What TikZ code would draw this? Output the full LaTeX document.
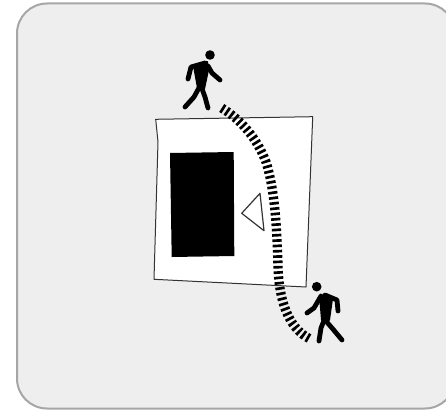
\documentclass[tikz,border=0pt]{standalone}
\usepackage{xcolor}
\definecolor{panelfill}{HTML}{EEEEEE}
\definecolor{paneledge}{HTML}{A6A6A6}
\definecolor{sheetedge}{HTML}{333333}

\begin{document}
\begin{tikzpicture}[
    x=0.75pt, y=-0.75pt,
    panel/.style={draw=paneledge, fill=panelfill, line width=1.5pt, rounded corners=22.5pt},
    sheet/.style={draw=sheetedge, fill=white, line width=0.75pt, line join=round},
    limb/.style={line width=3.6pt, line cap=round, line join=round},
    body/.style={fill, draw, line width=1.5pt, line join=round},
    track/.style={line width=7pt, dash pattern=on 2pt off 2pt}
]
\useasboundingbox (0,0) rectangle (446,410);

% Panel
\draw[panel] (17,3.5) rectangle (455,408.5);

% Sheet
\draw[sheet] (155.7,119.3) -- (312.7,116.7) -- (306,287) -- (154,279.3) -- (158,141.7) -- cycle;

% Block and marker
\fill (170,153) -- (233.7,152) -- (234.3,256) -- (171.7,257) -- cycle;
\draw[sheet, line width=0.9pt] (260,193.3) -- (241.7,213.3) -- (264,230.7) -- cycle;

% Track
\draw[track] (221.7,108) .. controls (240,119) and (257,138) .. (266,162)
    .. controls (275,190) and (277,230) .. (278,267)
    .. controls (279,300) and (288,328) .. (310,339);

% Walker top
\fill (210,55) circle (4.8);
\path[body] (194,66) -- (207,62) -- (208,70) -- (204,89) -- (198,88) -- cycle;
\draw[limb] (205,63) -- (191,67) -- (188,79);
\draw[limb] (208,66) -- (212,73) -- (220,80);
\draw[limb] (200,86) -- (194,97) -- (185,107);
\draw[limb] (201,86) -- (205,97) -- (208,108);

% Walker bottom
\fill (316.7,286.7) circle (4.8);
\path[body] (320,296) -- (332,299) -- (329,320) -- (322,320) -- cycle;
\draw[limb] (321,296) -- (314,308) -- (307,313);
\draw[limb] (325,295) -- (337,300) -- (338,311);
\draw[limb] (325,318) -- (321,328) -- (319,341);
\draw[limb] (325,320) -- (332,328) -- (342,340);

\end{tikzpicture}
\end{document}
